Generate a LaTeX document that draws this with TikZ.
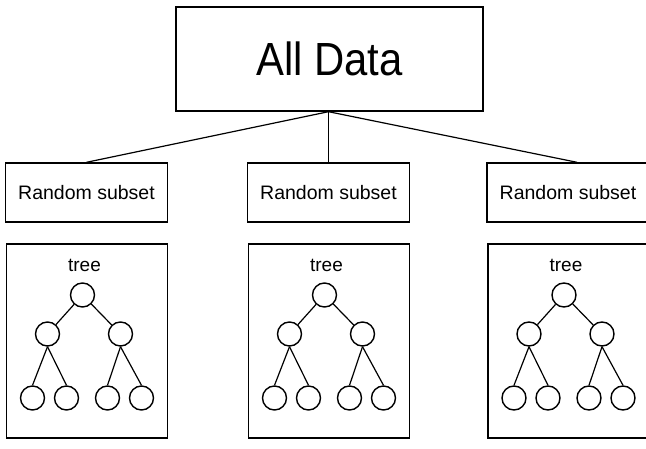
\documentclass[tikz,border=0pt]{standalone}
\usepackage{fontspec}
\setmainfont{Liberation Sans}
\newfontfamily\titlefont[FakeStretch=0.9]{Liberation Sans}
\begin{document}
\begin{tikzpicture}[x=1pt,y=-1pt,line width=1.4pt,
  box/.style={draw,rectangle,inner sep=0pt},
  leaf/.style={draw,circle,minimum size=24pt,inner sep=0pt},
  lbl/.style={font=\fontsize{19.5}{22}\selectfont},
  edge/.style={line width=1.2pt}]
\useasboundingbox (0,0) rectangle (646,449);
\node[box,minimum width=307pt,minimum height=104pt,font=\titlefont\fontsize{46.5}{50}\selectfont] (top) at (329.5,59) {All Data};
\foreach \i/\c in {1/86.5,2/328.5,3/568} {
  \node[box,minimum width=162pt,minimum height=59pt,lbl] (sub\i) at (\c,192.5) {Random subset};
  \node[box,minimum width=161pt,minimum height=194pt] (tb\i) at (\c+0.5,341) {};
  \node[font=\fontsize{19}{21}\selectfont] (tl\i) at (\c-2,265) {tree};
  \node[leaf] (r\i) at (\c-4,295) {};
  \node[leaf] (a\i) at (\c-39,334) {};
  \node[leaf] (b\i) at (\c+34,334) {};
  \node[leaf] (aa\i) at (\c-54,398) {};
  \node[leaf] (ab\i) at (\c-20,398) {};
  \node[leaf] (ba\i) at (\c+21,398) {};
  \node[leaf] (bb\i) at (\c+55,398) {};
  \draw[edge] (r\i) -- (a\i);
  \draw[edge] (r\i) -- (b\i);
  \draw[edge] (a\i.south) -- (aa\i.north);
  \draw[edge] (a\i.south) -- (ab\i.north);
  \draw[edge] (b\i.south) -- (ba\i.north);
  \draw[edge] (b\i.south) -- (bb\i.north);
}
\coordinate (hub) at ([xshift=-1pt]top.south);
\draw[edge] (hub) -- (sub1.north);
\draw[edge] (hub) -- (sub2.north);
\draw[edge] (hub) -- ([xshift=9pt]sub3.north);
\end{tikzpicture}
\end{document}
